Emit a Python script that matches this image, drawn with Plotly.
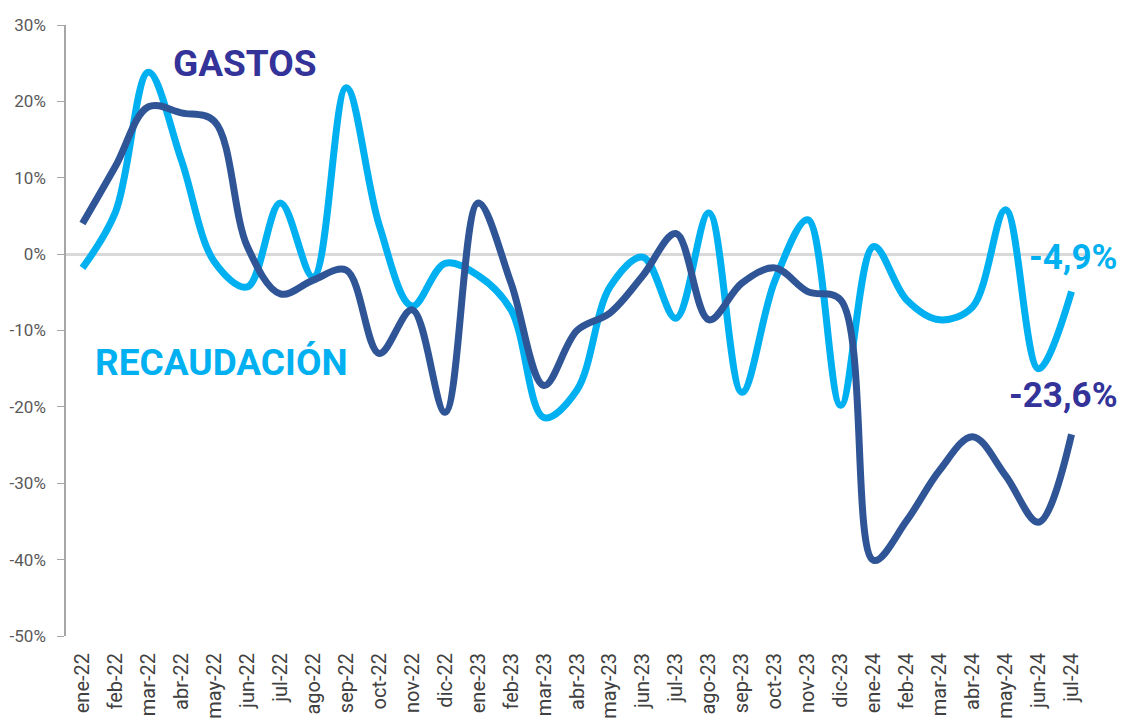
import plotly.graph_objects as go

months = ["ene-22", "feb-22", "mar-22", "abr-22", "may-22", "jun-22", "jul-22", "ago-22",
          "sep-22", "oct-22", "nov-22", "dic-22", "ene-23", "feb-23", "mar-23", "abr-23",
          "may-23", "jun-23", "jul-23", "ago-23", "sep-23", "oct-23", "nov-23", "dic-23",
          "ene-24", "feb-24", "mar-24", "abr-24", "may-24", "jun-24", "jul-24"]

recaudacion = [-1.8, 5.5, 23.8, 12.3, -1.0, -4.3, 6.7, -3.0, 21.8, 3.8, -6.8, -1.2,
               -2.8, -7.3, -21.4, -17.8, -4.3, -0.4, -8.4, 5.4, -18.1, -3.5, 4.5, -19.8,
               1.0, -6.0, -8.6, -6.9, 5.8, -15.0, -4.9]

gastos = [4.0, 11.5, 19.3, 18.5, 17.4, 1.0, -5.2, -3.4, -2.1, -13.0, -7.3, -20.7,
          6.7, -3.8, -17.2, -10.0, -7.7, -2.8, 2.7, -8.6, -3.8, -1.8, -4.9, -6.0,
          -40.1, -34.9, -28.3, -23.9, -29.0, -35.1, -23.6]

y_ticks = [30, 20, 10, 0, -10, -20, -30, -40, -50]

LIGHT = "#00B0F0"
DARK = "#2F5597"
NAVY = "#333399"

fig = go.Figure()
fig.add_trace(go.Scatter(x=months, y=recaudacion, mode="lines", name="RECAUDACIÓN",
                         line=dict(color=LIGHT, width=7, shape="spline", smoothing=1.0)))
fig.add_trace(go.Scatter(x=months, y=gastos, mode="lines", name="GASTOS",
                         line=dict(color=DARK, width=7, shape="spline", smoothing=1.0)))

fig.add_annotation(x=4.93, y=24.9, text="<b>GASTOS</b>", showarrow=False,
                   font=dict(family="Roboto", size=37, color=NAVY), xref="x", yref="y")
fig.add_annotation(x=4.23, y=-14.2, text="<b>RECAUDACIÓN</b>", showarrow=False,
                   font=dict(family="Roboto", size=37, color=LIGHT), xref="x", yref="y")
fig.add_annotation(x=30.05, y=-0.5, text="<b>%s</b>" % f"{recaudacion[-1]:.1f}%".replace(".", ","),
                   showarrow=False, font=dict(family="Roboto", size=35, color=LIGHT),
                   xref="x", yref="y")
fig.add_annotation(x=29.75, y=-18.5, text="<b>%s</b>" % f"{gastos[-1]:.1f}%".replace(".", ","),
                   showarrow=False, font=dict(family="Roboto", size=35, color=NAVY),
                   xref="x", yref="y")

fig.update_layout(
    width=1128, height=718,
    margin=dict(l=58, r=48, t=17, b=90),
    paper_bgcolor="white", plot_bgcolor="white",
    showlegend=False,
    font=dict(family="Roboto", color="#595959", size=17),
)
fig.update_xaxes(type="category", range=[-0.5, 30.5], tickangle=-90, showgrid=False,
                 showline=False, ticks="outside", ticklen=8, tickcolor="rgba(0,0,0,0)",
                 tickfont=dict(size=20, color="#404040"), automargin=False)
fig.update_yaxes(range=[-50, 30], tickvals=y_ticks, ticktext=[f"{v}%" for v in y_ticks],
                 showgrid=False, showline=True, linecolor="#A6A6A6", linewidth=1.5,
                 ticks="outside", ticklen=7, tickcolor="#A6A6A6", ticklabelstandoff=8,
                 zeroline=True, zerolinecolor="#D9D9D9", zerolinewidth=3,
                 tickfont=dict(size=17, color="#595959"), automargin=False)

fig.write_html("out.html")
